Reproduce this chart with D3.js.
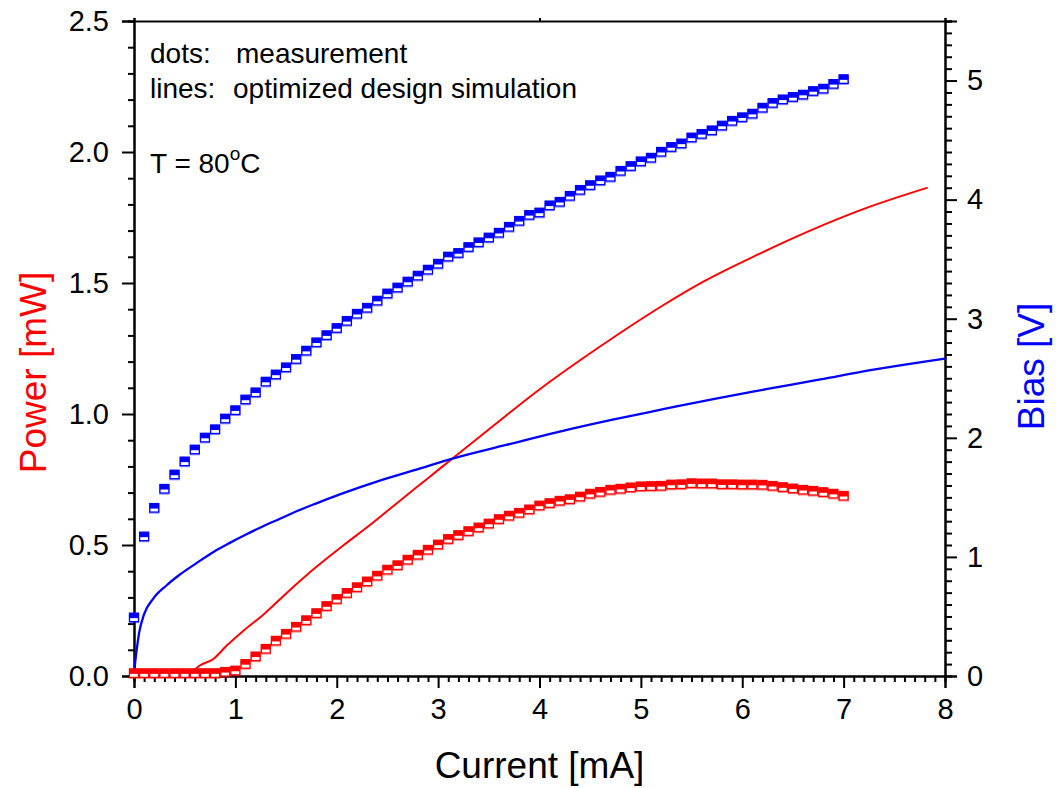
<!DOCTYPE html>
<html>
<head>
<meta charset="utf-8">
<script src="https://cdn.jsdelivr.net/npm/d3@7"></script>
<style>
  body { margin: 0; background: #fff; }
  svg { font-family: Arial, "Liberation Sans", sans-serif; }
</style>
</head>
<body>
<svg id="chart" width="1058" height="788"></svg>
<script>
// measured points, every 0.1 mA from 0 to 7 mA
const measCurrent = d3.range(71).map(i => +(i * 0.1).toFixed(1));
const measBias = [
  0.49, 1.17, 1.41, 1.57, 1.69, 1.80, 1.90, 2.00, 2.07, 2.16,
  2.23, 2.32, 2.38, 2.47, 2.53, 2.59, 2.66, 2.73, 2.80, 2.86,
  2.92, 2.98, 3.04, 3.09, 3.15, 3.21, 3.26, 3.31, 3.36, 3.41,
  3.46, 3.52, 3.55, 3.60, 3.64, 3.68, 3.72, 3.77, 3.82, 3.87,
  3.89, 3.95, 3.98, 4.03, 4.08, 4.12, 4.16, 4.19, 4.24, 4.28,
  4.32, 4.35, 4.40, 4.44, 4.47, 4.52, 4.55, 4.58, 4.62, 4.66,
  4.69, 4.72, 4.77, 4.81, 4.84, 4.86, 4.88, 4.91, 4.93, 4.97,
  5.01];
const measPower = [
  0.010, 0.010, 0.010, 0.010, 0.010, 0.010, 0.010, 0.010, 0.010, 0.015,
  0.020, 0.045, 0.074, 0.103, 0.134, 0.160, 0.187, 0.212, 0.239, 0.266,
  0.293, 0.316, 0.338, 0.360, 0.382, 0.405, 0.422, 0.443, 0.462, 0.481,
  0.501, 0.522, 0.537, 0.552, 0.566, 0.581, 0.598, 0.611, 0.622, 0.635,
  0.650, 0.659, 0.668, 0.674, 0.684, 0.695, 0.702, 0.710, 0.714, 0.719,
  0.723, 0.724, 0.725, 0.730, 0.731, 0.735, 0.734, 0.734, 0.731, 0.731,
  0.730, 0.730, 0.729, 0.725, 0.720, 0.715, 0.710, 0.706, 0.701, 0.695,
  0.687];

// simulation curves
const simPowerCurrent = [0.53, 0.65, 0.78, 0.92, 1.08, 1.29, 1.52, 1.80, 2.07, 2.35, 2.62, 2.90, 3.16, 3.57, 3.98, 4.40, 4.81, 5.22, 5.63, 6.15, 6.67, 7.18, 7.83];
const simPower = [0.0, 0.04, 0.064, 0.118, 0.173, 0.239, 0.322, 0.417, 0.50, 0.583, 0.668, 0.755, 0.836, 0.963, 1.088, 1.205, 1.313, 1.415, 1.508, 1.608, 1.700, 1.780, 1.864];
const simBiasCurrent = [0, 0.01, 0.025, 0.05, 0.1, 0.19, 0.32, 0.45, 0.62, 0.78, 0.95, 1.11, 1.28, 1.44, 1.61, 1.80, 2.03, 2.44, 2.81, 3.16, 3.67, 4.19, 4.71, 5.22, 5.74, 6.25, 6.77, 7.28, 7.80, 8.0];
const simBias = [0, 0.10, 0.21, 0.36, 0.52, 0.65, 0.76, 0.85, 0.95, 1.04, 1.12, 1.19, 1.26, 1.32, 1.385, 1.45, 1.525, 1.645, 1.74, 1.83, 1.94, 2.05, 2.15, 2.24, 2.33, 2.41, 2.49, 2.57, 2.64, 2.665];

const xTicks = [0, 1, 2, 3, 4, 5, 6, 7, 8];
const powerTicks = [0, 0.5, 1.0, 1.5, 2.0, 2.5];
const biasTicks = [0, 1, 2, 3, 4, 5];

const RED = "#ff0000", BLUE = "#0000ff";
const plotL = 134, plotR = 945, plotT = 21, plotB = 676;

const svg = d3.select("#chart");

const x = d3.scaleLinear().domain([0, 8]).range([plotL, plotR]);
const yP = d3.scaleLinear().domain([0, 2.5]).range([plotB, plotT]);
const yV = d3.scaleLinear().domain([0, 5.5]).range([plotB, plotT]);

function minors(lo, hi, step, majors) {
  return d3.range(Math.round((hi - lo) / step) + 1)
    .map(i => +(lo + i * step).toFixed(2))
    .filter(v => !majors.some(m => Math.abs(m - v) < 1e-6));
}

function styleAxis(g) {
  g.selectAll("path.domain").attr("stroke", "#000").attr("stroke-width", 2);
  g.selectAll(".tick line").attr("stroke", "#000").attr("stroke-width", 2);
  g.selectAll(".tick text").attr("fill", "#000").style("font-size", "29px");
  g.attr("font-family", null).attr("font-size", null);
}

// minor ticks
svg.append("g").attr("transform", `translate(${plotL},0)`)
  .call(d3.axisLeft(yP).tickValues(minors(0, 2.5, 0.1, powerTicks)).tickSize(6).tickFormat(""))
  .call(styleAxis);
svg.append("g").attr("transform", `translate(${plotR},0)`)
  .call(d3.axisRight(yV).tickValues(minors(0, 5.5, 0.1, biasTicks)).tickSize(7).tickFormat(""))
  .call(styleAxis);
svg.append("g").attr("transform", `translate(0,${plotB})`)
  .call(d3.axisBottom(x).tickValues(minors(0, 8, 0.1, xTicks)).tickSize(6).tickFormat(""))
  .call(styleAxis);

// major ticks
svg.append("g").attr("transform", `translate(${plotL},0)`)
  .call(d3.axisLeft(yP).tickValues(powerTicks).tickSize(12).tickPadding(13).tickFormat(d3.format(".1f")))
  .call(styleAxis);
svg.append("g").attr("transform", `translate(${plotR},0)`)
  .call(d3.axisRight(yV).tickValues(biasTicks).tickSize(12).tickPadding(10).tickFormat(d3.format("d")))
  .call(styleAxis);
svg.append("g").attr("transform", `translate(0,${plotB})`)
  .call(d3.axisBottom(x).tickValues(xTicks).tickSize(12).tickPadding(10).tickFormat(d3.format("d")))
  .call(styleAxis);

// top frame
svg.append("g").attr("transform", `translate(0,${plotT})`)
  .call(d3.axisTop(x).tickValues([0, 4, 8]).tickSize(3).tickFormat(""))
  .call(styleAxis);

// simulation lines
const simP = simPowerCurrent.map((c, i) => [c, simPower[i]]);
const simV = simBiasCurrent.map((c, i) => [c, simBias[i]]);

svg.append("path").datum(simP)
  .attr("fill", "none").attr("stroke", RED).attr("stroke-width", 2)
  .attr("d", d3.line().x(d => x(d[0])).y(d => yP(d[1])).curve(d3.curveMonotoneX));
svg.append("path").datum(simV)
  .attr("fill", "none").attr("stroke", BLUE).attr("stroke-width", 2.3)
  .attr("d", d3.line().x(d => x(d[0])).y(d => yV(d[1])).curve(d3.curveMonotoneX));

// measurement markers: half-filled squares
function drawMarkers(data, yScale, color) {
  const g = svg.append("g").selectAll("g").data(data).enter().append("g")
    .attr("transform", d => `translate(${x(d[0])},${yScale(d[1])})`);
  g.append("rect").attr("x", -4.5).attr("y", -3.5).attr("width", 9).attr("height", 8.5)
    .attr("fill", "none").attr("stroke", color).attr("stroke-opacity", 0.45).attr("stroke-width", 1.2);
  g.append("rect").attr("x", -4.5).attr("y", -4.5).attr("width", 9).attr("height", 8.5)
    .attr("fill", "#fff").attr("stroke", color).attr("stroke-width", 1.3);
  g.append("rect").attr("x", -4.5).attr("y", -4.5).attr("width", 9).attr("height", 5)
    .attr("fill", color);
}
drawMarkers(measCurrent.map((c, i) => [c, measPower[i]]), yP, RED);
drawMarkers(measCurrent.map((c, i) => [c, measBias[i]]), yV, BLUE);

// annotations
const note = svg.append("g").style("font-size", "28px").attr("fill", "#000");
note.append("text").attr("x", 150).attr("y", 63).text("dots:");
note.append("text").attr("x", 236).attr("y", 63).text("measurement");
note.append("text").attr("x", 150).attr("y", 98).text("lines:");
note.append("text").attr("x", 233).attr("y", 98).text("optimized design simulation");
const t = note.append("text").attr("x", 150).attr("y", 173);
t.append("tspan").text("T = 80");
t.append("tspan").attr("dy", -13).style("font-size", "19px").text("o");
t.append("tspan").attr("dy", 13).text("C");

// axis titles
svg.append("text").attr("x", (plotL + plotR) / 2).attr("y", 778)
  .attr("text-anchor", "middle").style("font-size", "37px").attr("fill", "#000")
  .text("Current [mA]");
svg.append("text").attr("transform", `translate(46,${(plotT + plotB) / 2 + 24}) rotate(-90)`)
  .attr("text-anchor", "middle").style("font-size", "37px").attr("fill", RED)
  .text("Power [mW]");
svg.append("text").attr("transform", `translate(1044,${(plotT + plotB) / 2 + 18}) rotate(-90)`)
  .attr("text-anchor", "middle").style("font-size", "37px").attr("fill", BLUE)
  .text("Bias [V]");
</script>
</body>
</html>
